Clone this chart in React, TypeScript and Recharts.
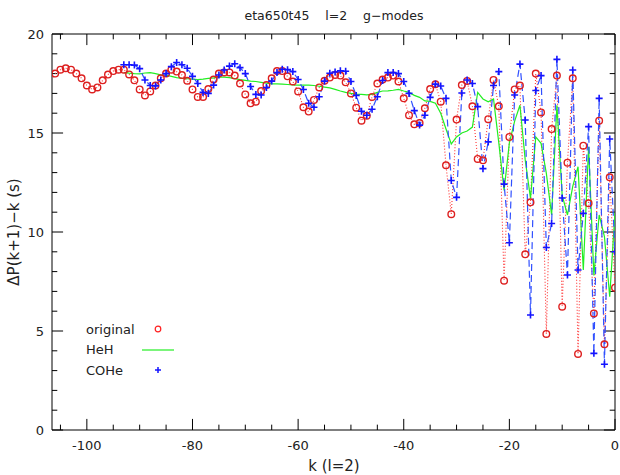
import React from 'react';
import { LineChart, Line, XAxis, YAxis, Legend, ReferenceLine } from 'recharts';

// period spacing, one value per radial order k (last value is k = 0)
const originalVals = [
  18.0, 18.2, 18.27, 18.2, 18.0, 17.76, 17.4, 17.2, 17.3, 17.66,
  17.95, 18.13, 18.2, 18.2, 17.96, 17.66, 17.2, 16.9, 17.1, 17.4,
  17.76, 18.0, 18.2, 18.1, 17.93, 17.64, 17.2, 16.82, 16.82, 17.22,
  17.7, 18.0, 18.06, 18.06, 17.9, 17.5, 16.95, 16.5, 16.58, 17.12,
  17.42, 17.76, 18.13, 18.13, 17.86, 17.6, 17.1, 16.3, 16.08, 16.67,
  17.3, 17.64, 17.8, 17.93, 17.9, 17.56, 17.0, 16.28, 15.62, 15.87,
  16.82, 17.5, 17.7, 17.8, 17.9, 17.6, 16.75, 15.9, 15.44, 15.5,
  16.25, 17.22, 17.46, 16.58, 13.37, 10.9, 15.68, 17.42, 17.63, 16.35,
  13.69, 13.62, 15.7, 17.68, 16.35, 7.54, 14.8, 17.2, 17.4, 8.87,
  11.5, 18.0, 16.04, 4.85, 15.2, 17.9, 6.23, 13.5, 17.76, 3.84,
  14.36, 11.45, 5.89, 15.62, 4.33, 12.76, 7.19,
];

const hehVals = [
  18.05, 18.02, 18.0, 17.99, 18.03, 18.05, 18.0, 17.94, 17.92, 17.86,
  17.8, 17.76, 17.74, 17.72, 17.7, 17.72, 17.76, 17.78, 17.82, 17.82,
  17.8, 17.75, 17.7, 17.66, 17.62, 17.6, 17.56, 17.52, 17.48, 17.48,
  17.47, 17.45, 17.43, 17.42, 17.42, 17.42, 17.4, 17.36, 17.32, 17.28,
  17.2, 17.12, 17.05, 17.0, 16.96, 16.95, 16.93, 16.95, 17.05, 17.12,
  17.13, 17.16, 17.2, 17.12, 17.05, 16.9, 16.8, 16.62, 16.6, 16.5,
  16.0, 15.2, 14.45, 14.8, 15.0, 15.1, 15.3, 17.05, 16.72, 16.58,
  16.72, 14.5, 12.1, 14.5, 15.6, 16.4, 13.64, 11.7, 14.8, 14.48,
  12.96, 10.86, 16.4, 11.85, 10.86, 12.3, 13.3, 8.08, 14.3, 7.8,
  10.86, 9.77, 6.73, 11.0,
];

const coheVals = [
  18.45, 18.45, 18.43, 18.25, 17.68, 17.4, 17.38, 17.68, 18.0, 18.35,
  18.56, 18.45, 18.27, 17.86, 17.5, 17.05, 17.0, 17.42, 17.93, 18.18,
  18.38, 18.5, 18.3, 18.0, 17.35, 16.95, 16.92, 17.3, 17.62, 18.05,
  18.22, 18.2, 18.1, 17.7, 17.2, 16.5, 16.3, 16.83, 17.62, 18.02,
  18.08, 18.14, 18.12, 17.6, 16.9, 16.1, 15.9, 16.2, 16.83, 17.65,
  18.05, 18.05, 18.0, 17.6, 17.0, 16.13, 15.4, 15.9, 16.8, 17.47,
  17.37, 16.75, 12.6, 11.75, 17.02, 17.68, 17.5, 16.33, 13.2, 14.55,
  17.4, 18.1, 12.42, 9.46, 16.92, 18.48, 15.66, 5.81, 17.15, 17.9,
  9.22, 10.43, 18.72, 11.72, 7.83, 18.18, 8.08, 10.94, 15.32, 3.87,
  16.75, 3.32, 14.7, 9.0,
];

const xMajorTicks = [-100, -80, -60, -40, -20, 0];
const xMinorTicks = [-105, -95, -90, -85, -75, -70, -65, -55, -50, -45, -35, -30, -25, -15, -10, -5];
const yMajorTicks = [0, 5, 10, 15, 20];
const yMinorTicks = [1, 2, 3, 4, 6, 7, 8, 9, 11, 12, 13, 14, 16, 17, 18, 19];

const X_MIN = -106.6;
const X_DOMAIN: [number, number] = [X_MIN, 0];
const Y_DOMAIN: [number, number] = [0, 20];
const FONT = '"DejaVu Sans", sans-serif';

// inward tick lengths, in data units (about 11px major, 5px minor)
const X_TICK_MAJ = 0.56;
const X_TICK_MIN = 0.27;
const Y_TICK_MAJ = 2.1;
const Y_TICK_MIN = 1.0;

const RED = '#dd1f1f';
const GREEN = '#22ee22';
const BLUE = '#1414ff';

// k runs up to 0 for the last value of each series
const withK = (vals: number[]) => vals.map((v, i) => ({ k: i - vals.length + 1, v }));
const originalData = withK(originalVals);
const hehData = withK(hehVals);
const coheData = withK(coheVals);

const circleDot = (p: any) => (
  <circle key={`o${p.index}`} cx={p.cx} cy={p.cy} r={3.3} fill="none" stroke={RED} strokeWidth={1.4} />
);

const plusDot = (p: any) => (
  <path
    key={`p${p.index}`}
    d={`M${p.cx - 3.5},${p.cy}h7M${p.cx},${p.cy - 3.5}v7`}
    stroke={BLUE}
    strokeWidth={1.6}
    fill="none"
  />
);

function LegendBox() {
  const rows = ['original', 'HeH', 'COHe'];
  return (
    <div style={{ fontFamily: FONT, fontSize: 13, color: '#222' }}>
      {rows.map((name) => (
        <div key={name} style={{ display: 'flex', alignItems: 'center', height: 20.5 }}>
          <span style={{ width: 56 }}>{name}</span>
          <svg width={34} height={12}>
            {name === 'original' && <circle cx={16} cy={6} r={2.8} fill="none" stroke="#ff2020" strokeWidth={1.2} />}
            {name === 'HeH' && <line x1={0} x2={32} y1={6} y2={6} stroke={GREEN} strokeWidth={1.2} />}
            {name === 'COHe' && <path d="M13,6h6M16,3v6" stroke={BLUE} strokeWidth={1.5} />}
          </svg>
        </div>
      ))}
    </div>
  );
}

const tickText = { fill: '#222', fontSize: 13, fontFamily: FONT };
const black = { stroke: '#000' };

// inward tick marks on all four sides of the frame
const tickSegments = [
  ...xMajorTicks.flatMap((x) => [
    [{ x, y: 0 }, { x, y: X_TICK_MAJ }],
    [{ x, y: 20 }, { x, y: 20 - X_TICK_MAJ }],
  ]),
  ...xMinorTicks.flatMap((x) => [
    [{ x, y: 0 }, { x, y: X_TICK_MIN }],
    [{ x, y: 20 }, { x, y: 20 - X_TICK_MIN }],
  ]),
  ...yMajorTicks.flatMap((y) => [
    [{ x: X_MIN, y }, { x: X_MIN + Y_TICK_MAJ, y }],
    [{ x: 0, y }, { x: -Y_TICK_MAJ, y }],
  ]),
  ...yMinorTicks.flatMap((y) => [
    [{ x: X_MIN, y }, { x: X_MIN + Y_TICK_MIN, y }],
    [{ x: 0, y }, { x: -Y_TICK_MIN, y }],
  ]),
];

const textStyle = { position: 'absolute' as const, fontFamily: FONT, color: '#222', whiteSpace: 'pre' as const };

export default function App() {
  return (
    <div style={{ position: 'absolute', left: 0, top: 0, width: 620, height: 475, background: '#fff' }}>
      <LineChart width={620} height={475} margin={{ top: 34, right: 5, bottom: 15, left: 12 }}>
        <XAxis
          xAxisId="k"
          type="number"
          dataKey="k"
          domain={X_DOMAIN}
          allowDataOverflow
          ticks={xMajorTicks}
          interval={0}
          height={30}
          tickSize={0}
          tickMargin={11}
          tickLine={false}
          axisLine={black}
          tick={tickText}
        />
        <YAxis
          yAxisId="v"
          type="number"
          domain={Y_DOMAIN}
          allowDataOverflow
          ticks={yMajorTicks}
          interval={0}
          width={40}
          tickSize={0}
          tickMargin={8}
          tickLine={false}
          axisLine={black}
          tick={tickText}
        />
        <ReferenceLine xAxisId="k" yAxisId="v" y={20} stroke="#000" strokeWidth={1} />
        <ReferenceLine xAxisId="k" yAxisId="v" x={0} stroke="#000" strokeWidth={1} />
        {tickSegments.map((seg, i) => (
          <ReferenceLine key={`t${i}`} xAxisId="k" yAxisId="v" segment={seg} stroke="#000" strokeWidth={1} />
        ))}
        <Line
          name="original"
          data={originalData}
          xAxisId="k"
          yAxisId="v"
          dataKey="v"
          type="linear"
          stroke="#ff3030"
          strokeWidth={1.1}
          strokeDasharray="1 2"
          dot={circleDot}
          activeDot={false}
          isAnimationActive={false}
        />
        <Line
          name="HeH"
          data={hehData}
          xAxisId="k"
          yAxisId="v"
          dataKey="v"
          type="linear"
          stroke={GREEN}
          strokeWidth={1.2}
          dot={false}
          activeDot={false}
          isAnimationActive={false}
        />
        <Line
          name="COHe"
          data={coheData}
          xAxisId="k"
          yAxisId="v"
          dataKey="v"
          type="linear"
          stroke="#3050ff"
          strokeWidth={1.2}
          strokeDasharray="7 4"
          dot={plusDot}
          activeDot={false}
          isAnimationActive={false}
        />
        <Legend
          layout="horizontal"
          verticalAlign="middle"
          align="center"
          content={() => <LegendBox />}
          wrapperStyle={{ left: 86, top: 319, width: 100 }}
        />
      </LineChart>
      <div style={{ ...textStyle, left: 334, top: 15, transform: 'translate(-50%,-50%)', fontSize: 12.5 }}>
        {'eta650t45    l=2    g\u2212modes'}
      </div>
      <div style={{ ...textStyle, left: 334, top: 466, transform: 'translate(-50%,-50%)', fontSize: 15 }}>
        k (l=2)
      </div>
      <div style={{ ...textStyle, left: 14, top: 232, transform: 'translate(-50%,-50%) rotate(-90deg)', fontSize: 15 }}>
        {'\u0394P(k+1)\u2212k (s)'}
      </div>
    </div>
  );
}
